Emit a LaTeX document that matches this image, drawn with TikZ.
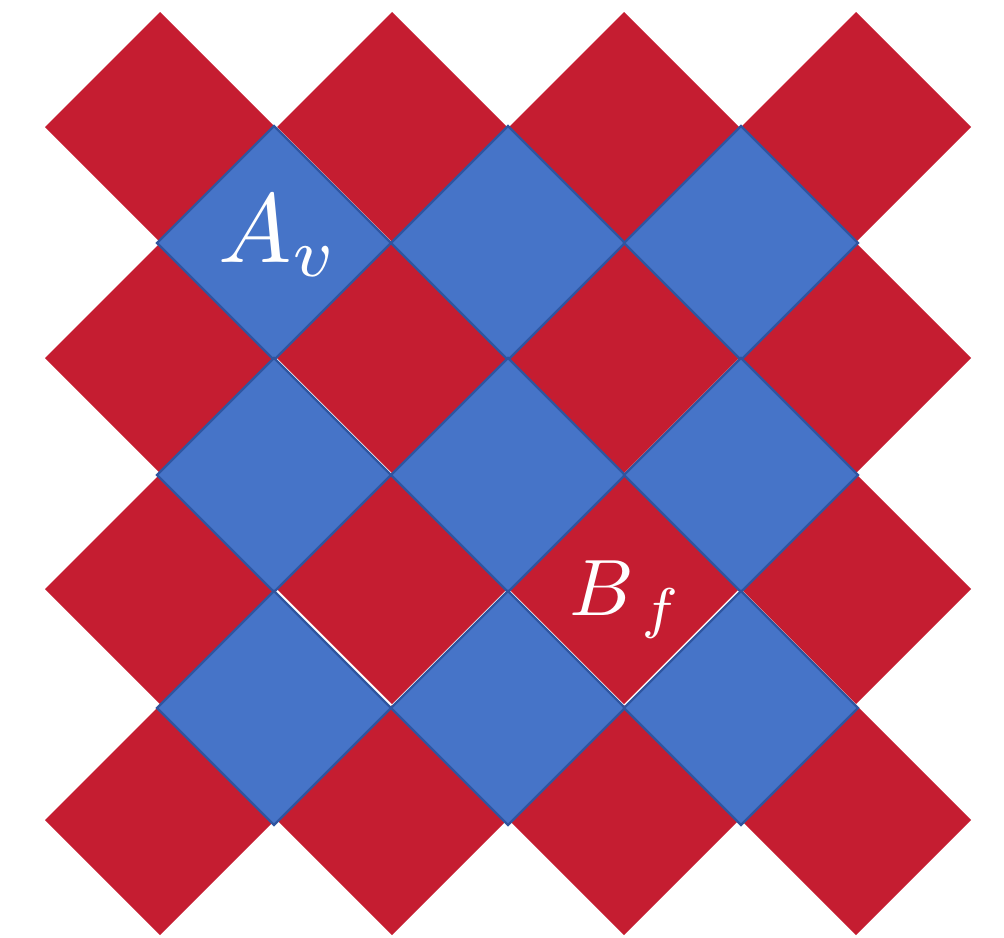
\documentclass[tikz,border=0pt]{standalone}
\definecolor{tilered}{RGB}{197,29,49}
\definecolor{tileblue}{RGB}{70,116,200}
\definecolor{tileedge}{RGB}{47,85,160}
\tikzset{
  redtile/.style={fill=tilered,draw=none},
  bluetile/.style={fill=tileblue,draw=tileedge,line width=1.2pt,line join=miter},
  tilelabel/.style={text=white,inner sep=0pt}
}
\begin{document}
\begin{tikzpicture}[x=0.5pt,y=-0.5pt]
\useasboundingbox (0,0) rectangle (1004,937);
% red tiles
\foreach \cx in {160,392,624,856}{
  \foreach \cy in {127,358,589,820}{
    \path[redtile] (\cx-115,\cy) -- (\cx,\cy-115) -- (\cx+115,\cy) -- (\cx,\cy+115) -- cycle;
  }
}
% blue tiles
\foreach \cx in {274,508,741}{
  \foreach \cy in {243,475,708}{
    \path[bluetile] (\cx-117,\cy) -- (\cx,\cy-117) -- (\cx+117,\cy) -- (\cx,\cy+117) -- cycle;
  }
}
\node[tilelabel,scale=4.9] (av) at (279,236) {$A_v$};
\node[tilelabel,scale=4.0] (bf) at (626,600) {$B_{\,f}$};
\end{tikzpicture}
\end{document}
